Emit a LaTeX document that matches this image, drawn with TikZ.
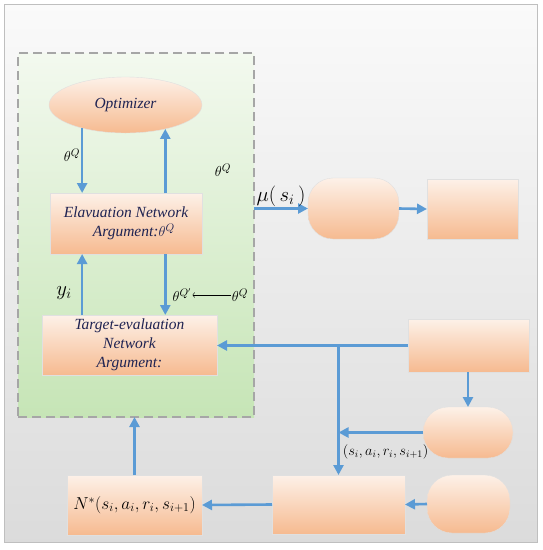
\documentclass[tikz,border=0pt]{standalone}
\usepackage{fontspec}
\setmainfont{Liberation Serif}
\usetikzlibrary{shapes.geometric, arrows.meta}
\definecolor{peachtop}{HTML}{FDF1E8}
\definecolor{peachbot}{HTML}{F6BA90}
\definecolor{arrblue}{HTML}{5B9BD5}
\definecolor{greentop}{HTML}{F3F9EF}
\definecolor{greenbot}{HTML}{C6E5B6}
\definecolor{txtnavy}{HTML}{1F2352}

\begin{document}
\begin{tikzpicture}[x=1pt, y=-1pt, outer sep=0pt,
  blk/.style={draw=black!12, top color=peachtop, bottom color=peachbot, inner sep=2pt,
    font=\fontsize{15.5}{19}\selectfont\itshape, text=txtnavy, align=center},
  pill/.style={blk, rounded corners=25pt},
  arr/.style={draw=arrblue, line width=2.6pt, -{Triangle[length=10pt, width=10pt]}},
  lbl/.style={font=\fontsize{15}{17}\selectfont, inner sep=1pt}]
\useasboundingbox (0,0) rectangle (543,550);
% frame and critic box
\draw[black!25, top color=black!2, bottom color=black!14] (4,4) rectangle (537,542);
\node[draw=black!35, dash pattern=on 9pt off 5pt, line width=1.5pt, top color=greentop, bottom color=greenbot,
  minimum width=236pt, minimum height=364pt] (critic) at (136,235) {};
% blocks
\node[blk, ellipse, minimum width=153pt, minimum height=56pt] (opt) at (125.5,105) {Optimizer};
\node[blk, minimum width=152pt, minimum height=61pt] (elev) at (126,223.5) {Elavuation Network\\ \ \ \ \ Argument:$\theta^{Q}$};
\node[blk, minimum width=175pt, minimum height=60pt] (targ) at (129.5,345) {Target-evaluation\\Network\\Argument:};
\node[blk, minimum width=135pt, minimum height=60pt, font=\fontsize{17}{20}\selectfont, text=black] (nstar) at (134.5,505) {$N^{*}(s_i,a_i,r_i,s_{i+1})$};
\node[pill, minimum width=91pt, minimum height=61pt] (pol) at (353.5,208.5) {};
\node[blk, minimum width=91pt, minimum height=60pt] (act) at (472.5,209) {};
\node[blk, minimum width=121pt, minimum height=53pt] (env) at (468.5,345.5) {};
\node[pill, minimum width=90pt, minimum height=51pt] (rw) at (468,432.5) {};
\node[blk, minimum width=133pt, minimum height=59pt] (buf) at (338.5,504.5) {};
\node[pill, minimum width=83pt, minimum height=58pt] (smp) at (468.5,504) {};
% inside the critic
\draw[arr] (opt.208) -- (opt.208 |- elev.north);
\draw[arr] (elev.north -| opt.329) -- (opt.329);
\draw[arr] (targ.north -| opt.208) -- (opt.208 |- elev.south);
\draw[arr] (elev.south -| opt.329) -- (opt.329 |- targ.north);
\node[lbl] (tq1) at (72,155) {$\theta^{Q}$};
\node[lbl] (tq2) at (223,170) {$\theta^{Q}$};
\node[lbl, font=\fontsize{22}{24}\selectfont] (yi) at (64,293) {$y_i$};
\node[lbl] (tqp) at (182,295) {$\theta^{Q'}$};
\node[lbl] (tq3) at (240,295) {$\theta^{Q}$};
\draw[->] (tq3) -- (tqp);
% outside
\draw[arr] (critic.east |- pol.west) -- node[above=-1pt, font=\fontsize{21}{24}\selectfont] (mu) {$\mu(\,s_i\,)$} (pol.west);
\draw[arr] (pol.east) -- (act.west);
\draw[arr] (env.west) -- (env.west -| targ.east);
\coordinate (jn) at (buf.north |- env.west);
\draw[arr] (jn) -- node[pos=0.82, right=1pt, font=\fontsize{14}{16}\selectfont] (tup) {$(s_i,a_i,r_i,s_{i+1})$} (buf.north);
\draw[arr] (env.south -| rw.north) -- (rw.north);
\draw[arr] (rw.west) -- (rw.west -| jn);
\draw[arr] (smp.west) -- (buf.east);
\draw[arr] (buf.west) -- (nstar.east);
\draw[arr] (nstar.north) -- (nstar.north |- critic.south);
\end{tikzpicture}
\end{document}
